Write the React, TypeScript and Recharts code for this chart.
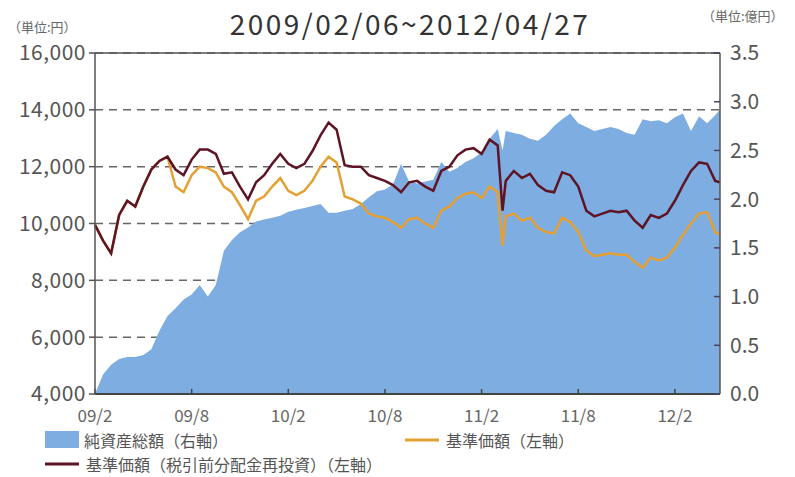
import React from "react";
import {
  ComposedChart,
  Area,
  Line,
  XAxis,
  YAxis,
  CartesianGrid,
  ReferenceLine,
} from "recharts";

// months since 2009/02 (fund start 2009/02/06 ... 2012/04/27)
const months = [
  0, 0.5, 1, 1.5, 2, 2.5, 3, 3.5, 4, 4.5, 5, 5.5, 6, 6.5, 7, 7.5, 8, 8.5, 9, 9.5,
  10, 10.5, 11, 11.5, 12, 12.5, 13, 13.5, 14, 14.5, 15, 15.5, 16, 16.5, 17, 17.5,
  18, 18.5, 19, 19.5, 20, 20.5, 21, 21.5, 22, 22.5, 23, 23.5, 24, 24.5, 25, 25.3,
  25.5, 26, 26.5, 27, 27.5, 28, 28.5, 29, 29.5, 30, 30.5, 31, 31.5, 32, 32.5, 33,
  33.5, 34, 34.5, 35, 35.5, 36, 36.5, 37, 37.5, 38, 38.5, 38.8,
];

// 基準価額(税引前分配金再投資) 円
const navReinvested = [
  9950, 9400, 8950, 10300, 10800, 10600, 11300, 11900, 12200, 12350, 11900, 11700,
  12250, 12600, 12600, 12450, 11750, 11800, 11300, 10850, 11450, 11700, 12100, 12450,
  12100, 11950, 12100, 12550, 13100, 13550, 13300, 12050, 12000, 12000, 11700, 11600,
  11500, 11350, 11100, 11450, 11500, 11300, 11150, 11850, 12000, 12400, 12600, 12650,
  12450, 12950, 12750, 10450, 11500, 11850, 11600, 11750, 11350, 11150, 11100, 11800,
  11700, 11300, 10450, 10250, 10350, 10450, 10400, 10450, 10100, 9850, 10300, 10200,
  10350, 10800, 11350, 11850, 12150, 12100, 11500, 11450,
];

// 基準価額 円
const nav = [
  9950, 9400, 8950, 10300, 10800, 10600, 11300, 11900, 12200, 12350, 11300, 11100,
  11700, 12000, 11950, 11800, 11300, 11100, 10650, 10150, 10800, 10950, 11300, 11600,
  11150, 11000, 11150, 11500, 12000, 12350, 12150, 10950, 10850, 10700, 10350, 10250,
  10200, 10050, 9850, 10150, 10200, 10000, 9850, 10450, 10600, 10900, 11050, 11100,
  10900, 11300, 11100, 9200, 10250, 10350, 10100, 10200, 9850, 9700, 9650, 10200,
  10050, 9700, 9050, 8850, 8900, 8950, 8900, 8900, 8650, 8450, 8800, 8700,
  8800, 9150, 9600, 10000, 10350, 10400, 9700, 9600,
];

// 純資産総額 億円
const netAssets = [
  0, 0.2, 0.3, 0.36, 0.38, 0.38, 0.4, 0.46, 0.65, 0.8, 0.88, 0.97,
  1.02, 1.12, 1.0, 1.12, 1.47, 1.58, 1.66, 1.71, 1.77, 1.79, 1.81, 1.83,
  1.87, 1.89, 1.91, 1.93, 1.95, 1.86, 1.86, 1.88, 1.9, 1.95, 2.02, 2.08,
  2.1, 2.15, 2.36, 2.18, 2.16, 2.18, 2.2, 2.38, 2.28, 2.32, 2.38, 2.42,
  2.48, 2.62, 2.72, 2.5, 2.7, 2.68, 2.66, 2.62, 2.6, 2.66, 2.75, 2.82,
  2.88, 2.78, 2.74, 2.7, 2.72, 2.74, 2.72, 2.68, 2.66, 2.82, 2.8, 2.81,
  2.78, 2.84, 2.88, 2.7, 2.85, 2.78, 2.86, 2.92,
];

const xTicks = [0, 6, 12, 18, 24, 30, 36];
const xTickLabels = ["09/2", "09/8", "10/2", "10/8", "11/2", "11/8", "12/2"];
const leftTicks = [4000, 6000, 8000, 10000, 12000, 14000, 16000];
const rightTicks = [0, 0.5, 1, 1.5, 2, 2.5, 3, 3.5];

const data = months.map((m, i) => ({
  m,
  navReinvested: navReinvested[i],
  nav: nav[i],
  netAssets: netAssets[i],
}));

const FONT = '"Noto Sans CJK JP", "Noto Sans", sans-serif';
const BLUE = "#7eade2";
const ORANGE = "#e4a033";
const MAROON = "#5e1424";
const AXIS = "#555";

export default function App() {
  return (
    <div style={{ position: "absolute", left: 0, top: 0, width: 795, height: 477, background: "#fff" }}>
      <ComposedChart
        width={795}
        height={477}
        data={data}
        margin={{ top: 53, right: 0, bottom: 0, left: 0 }}
      >
        <CartesianGrid
          yAxisId="left"
          vertical={false}
          stroke="#666"
          strokeWidth={1.5}
          strokeDasharray="8 6"
        />
        <XAxis
          dataKey="m"
          type="number"
          domain={[0, 38.8]}
          ticks={xTicks}
          interval={0}
          tickFormatter={(v: number) => xTickLabels[xTicks.indexOf(v)] ?? ""}
          height={83}
          tickSize={-5}
          tickMargin={21}
          axisLine={{ stroke: "#444", strokeWidth: 2 }}
          tickLine={{ stroke: "#444", strokeWidth: 1.5 }}
          tick={{ fontSize: 17, fill: "#666", fontFamily: FONT }}
        />
        <YAxis
          yAxisId="left"
          orientation="left"
          domain={[4000, 16000]}
          ticks={leftTicks}
          interval={0}
          width={95}
          tickSize={6}
          tickMargin={3}
          tickFormatter={(v: number) => v.toLocaleString("en-US")}
          axisLine={{ stroke: AXIS, strokeWidth: 1.5 }}
          tickLine={{ stroke: AXIS, strokeWidth: 1.5 }}
          tick={{ fontSize: 21, fill: "#555", fontFamily: FONT, letterSpacing: 0.5 }}
        />
        <YAxis
          yAxisId="right"
          orientation="right"
          domain={[0, 3.5]}
          ticks={rightTicks}
          interval={0}
          width={75}
          tickSize={-6}
          tickMargin={16}
          tickFormatter={(v: number) => v.toFixed(1)}
          axisLine={{ stroke: AXIS, strokeWidth: 1.5 }}
          tickLine={{ stroke: "#446", strokeWidth: 1.5 }}
          tick={{ fontSize: 21, fill: "#555", fontFamily: FONT }}
        />
        <Area
          yAxisId="right"
          type="linear"
          dataKey="netAssets"
          stroke="none"
          fill={BLUE}
          fillOpacity={1}
          isAnimationActive={false}
        />
        <Line
          yAxisId="left"
          type="linear"
          dataKey="nav"
          stroke={ORANGE}
          strokeWidth={2.5}
          dot={false}
          isAnimationActive={false}
        />
        <Line
          yAxisId="left"
          type="linear"
          dataKey="navReinvested"
          stroke={MAROON}
          strokeWidth={2.5}
          dot={false}
          isAnimationActive={false}
        />
        <ReferenceLine yAxisId="left" y={16000} stroke={AXIS} strokeWidth={1.5} />
      </ComposedChart>

      {/* title, units and legend */}
      <svg
        width={795}
        height={477}
        style={{ position: "absolute", left: 0, top: 0, pointerEvents: "none" }}
        fontFamily={FONT}
      >
        <text x={410} y={23} fontSize={28} fill="#333" textAnchor="middle" dominantBaseline="central" letterSpacing={2.5}>
          2009/02/06~2012/04/27
        </text>
        <text x={8} y={26} fontSize={13} fill="#666" dominantBaseline="central">
          （単位:円）
        </text>
        <text x={702} y={15} fontSize={13} fill="#666" dominantBaseline="central">
          （単位:億円）
        </text>

        <rect x={45} y={431} width={34} height={17} fill={BLUE} />
        <text x={84} y={440} fontSize={16} fill="#555" dominantBaseline="central">
          純資産総額（右軸）
        </text>
        <line x1={405} x2={439} y1={440} y2={440} stroke={ORANGE} strokeWidth={3} />
        <text x={446} y={440} fontSize={16} fill="#555" dominantBaseline="central">
          基準価額（左軸）
        </text>
        <line x1={45} x2={79} y1={464} y2={464} stroke={MAROON} strokeWidth={3} />
        <text x={86} y={464} fontSize={16} fill="#555" dominantBaseline="central">
          基準価額（税引前分配金再投資）（左軸）
        </text>
      </svg>
    </div>
  );
}
